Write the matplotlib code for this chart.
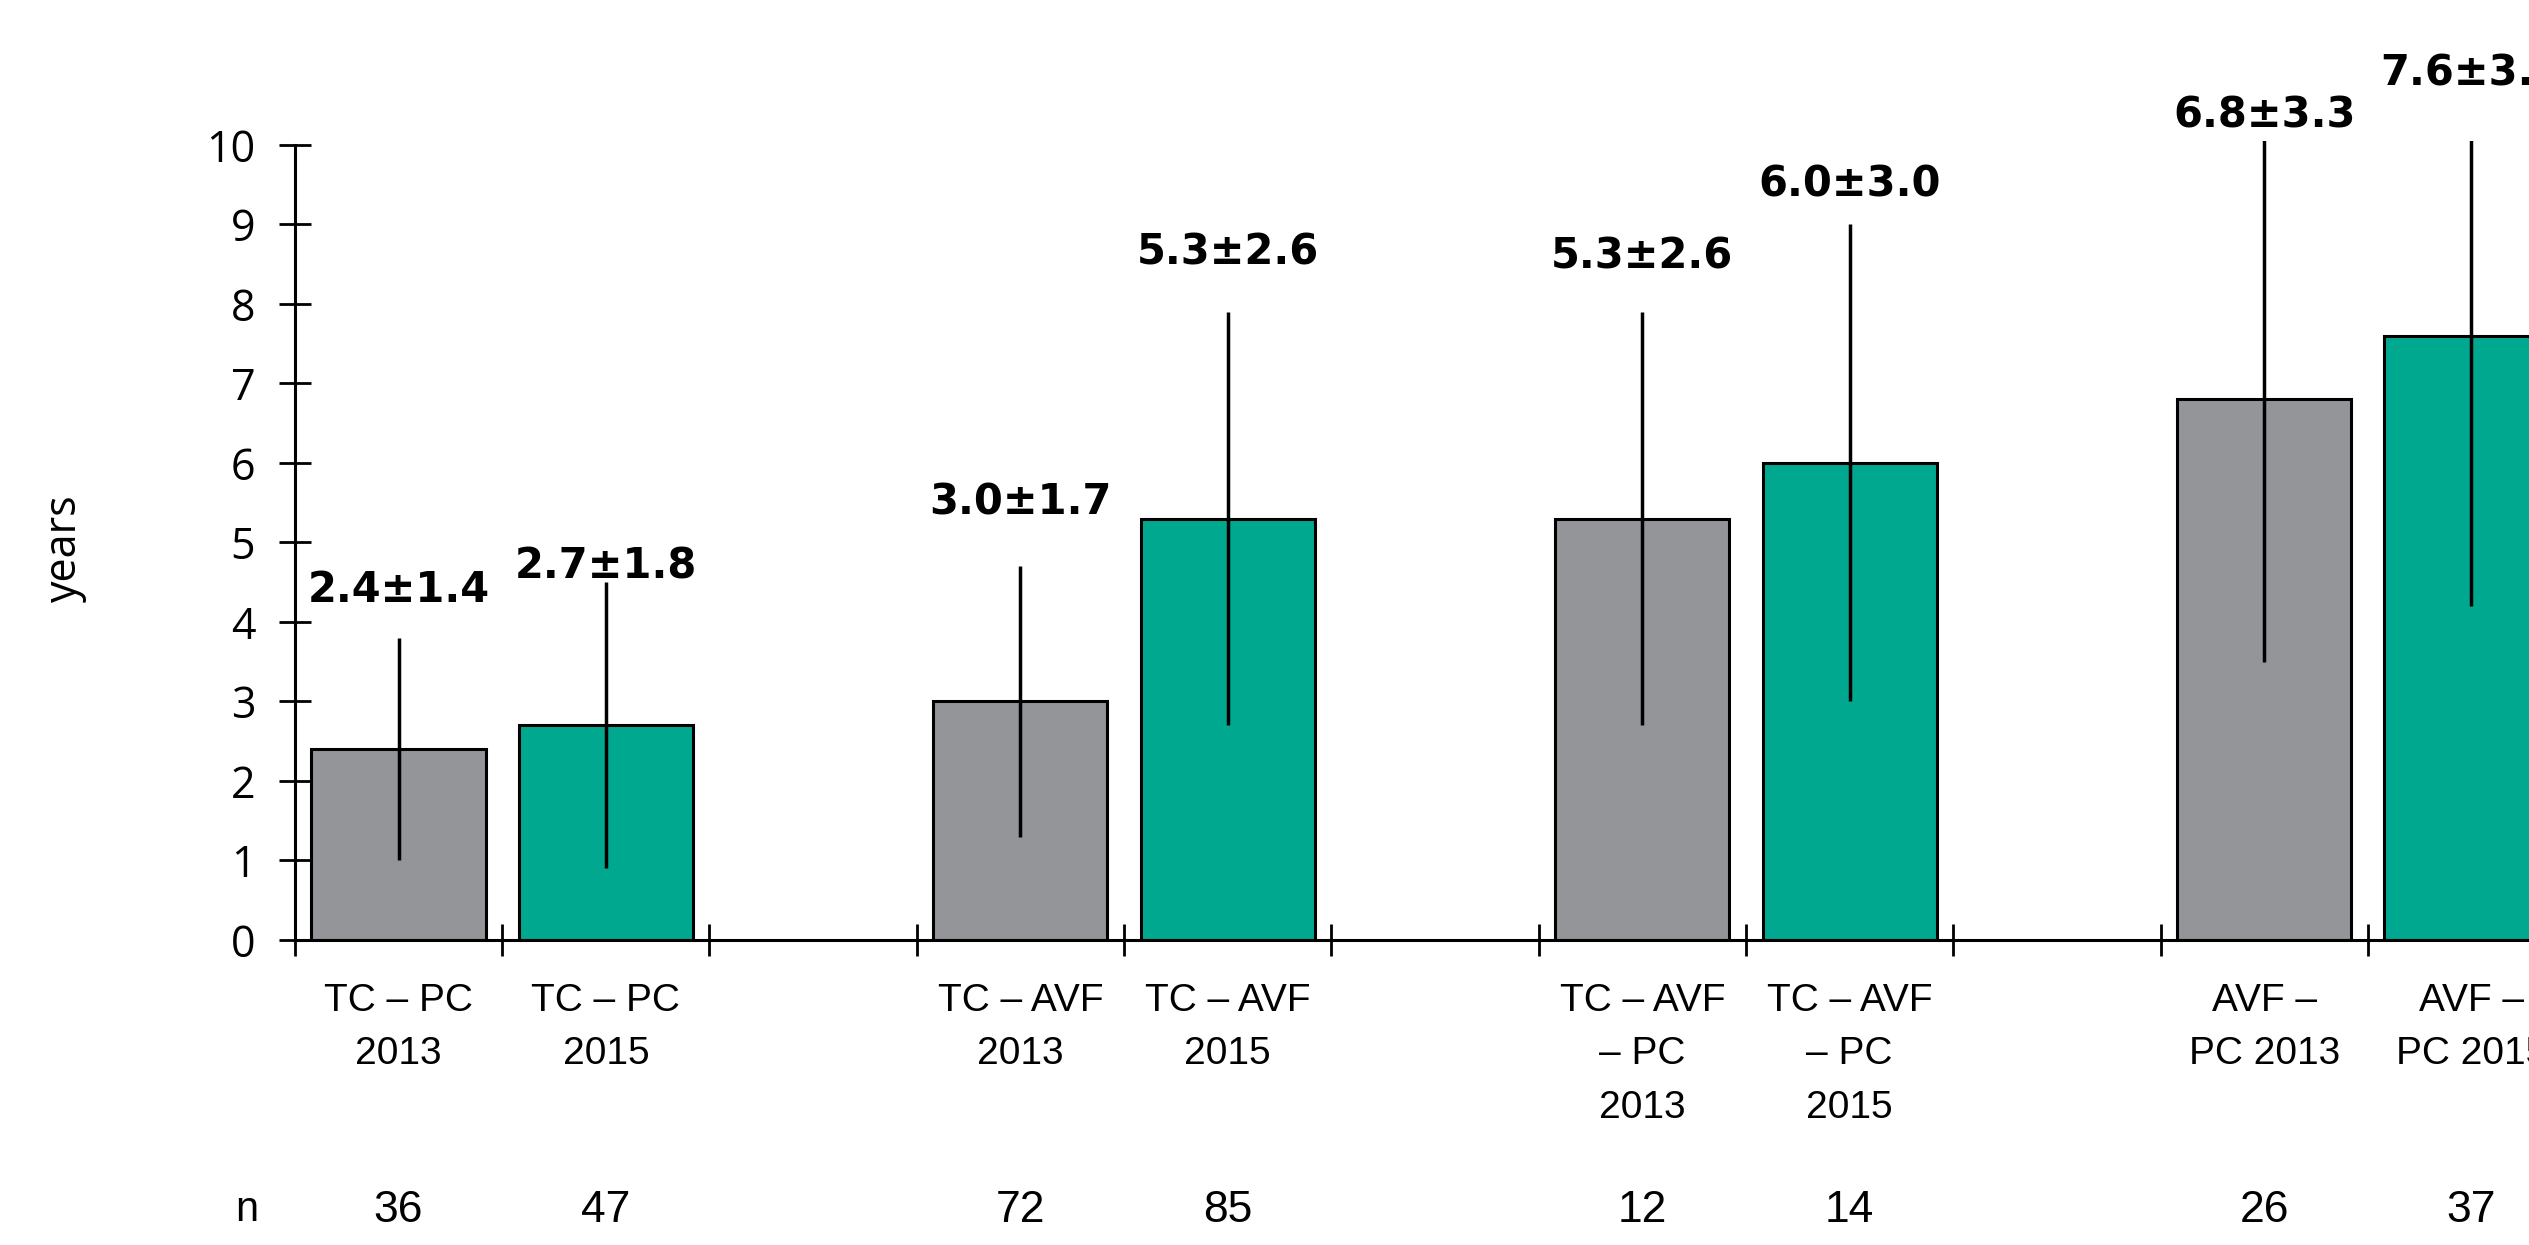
import numpy as np
import matplotlib.pyplot as plt
from matplotlib import transforms

groups = ['TC – PC\n2013', 'TC – PC\n2015',
          'TC – AVF\n2013', 'TC – AVF\n2015',
          'TC – AVF\n– PC\n2013', 'TC – AVF\n– PC\n2015',
          'AVF –\nPC 2013', 'AVF –\nPC 2015']
means = [2.4, 2.7, 3.0, 5.3, 5.3, 6.0, 6.8, 7.6]
sds = [1.4, 1.8, 1.7, 2.6, 2.6, 3.0, 3.3, 3.4]
n_pts = [36, 47, 72, 85, 12, 14, 26, 37]

# pairs of bars with an empty slot in between
slots = [0, 1, 3, 4, 6, 7, 9, 10]
xpos = np.array(slots) + 0.5
colors = ['#939598', '#00a88f'] * 4
label_pad = [0.6, 0.2, 0.8, 0.75, 0.7, 0.5, 0.32, 0.85]

narrow = ['Liberation Sans', 'DejaVu Sans']
plain = ['Open Sans', 'DejaVu Sans']

fig = plt.figure(figsize=(25.29, 12.45), dpi=100)
ax = fig.add_axes([0.1166, 0.245, 0.9836, 0.6418])

ax.bar(xpos, means, width=0.84, color=colors, edgecolor='black', linewidth=2.2, zorder=2)
ax.errorbar(xpos, means, yerr=sds, fmt='none', ecolor='black', elinewidth=2.5,
            capsize=0, zorder=3)

for x, m, s, p in zip(xpos, means, sds, label_pad):
    top = min(m + s, 10.05)
    ax.text(x, top + p, f'{m:.1f}±{s:.1f}', ha='center', va='center',
            fontsize=30, fontweight='bold', family='DejaVu Sans', clip_on=False)

ax.set_xlim(0, 12)
ax.set_ylim(0, 10.05)
ax.set_yticks(range(0, 11))
ax.set_yticklabels([str(v) for v in range(0, 11)], family=plain)
ax.tick_params(axis='y', direction='inout', length=23, width=2, labelsize=31, pad=17)

ax.set_xticks(xpos)
ax.set_xticklabels(groups, family=narrow, fontsize=28, linespacing=1.62, va='top')
ax.set_xticks(np.arange(0, 13), minor=True)
ax.tick_params(axis='x', which='major', length=0, pad=31)
ax.tick_params(axis='x', which='minor', direction='inout', length=23, width=2)

for side in ['top', 'right']:
    ax.spines[side].set_visible(False)
ax.spines['left'].set_bounds(0, 10)
ax.spines['left'].set_linewidth(2.2)
ax.spines['bottom'].set_linewidth(2.2)

fig.text(65 / 2529, 1 - 548 / 1245, 'years', rotation=90, ha='center', va='center',
         fontsize=31, family=plain)

# sample sizes under each bar
trans = transforms.blended_transform_factory(ax.transData, fig.transFigure)
ax.text(-0.23, 0.028, 'n', transform=trans, ha='center', va='center',
        fontsize=30, family=narrow)
for x, n in zip(xpos, n_pts):
    ax.text(x, 0.028, str(n), transform=trans, ha='center', va='center',
            fontsize=32, family=narrow)

fig.savefig('out.png', dpi=100)
